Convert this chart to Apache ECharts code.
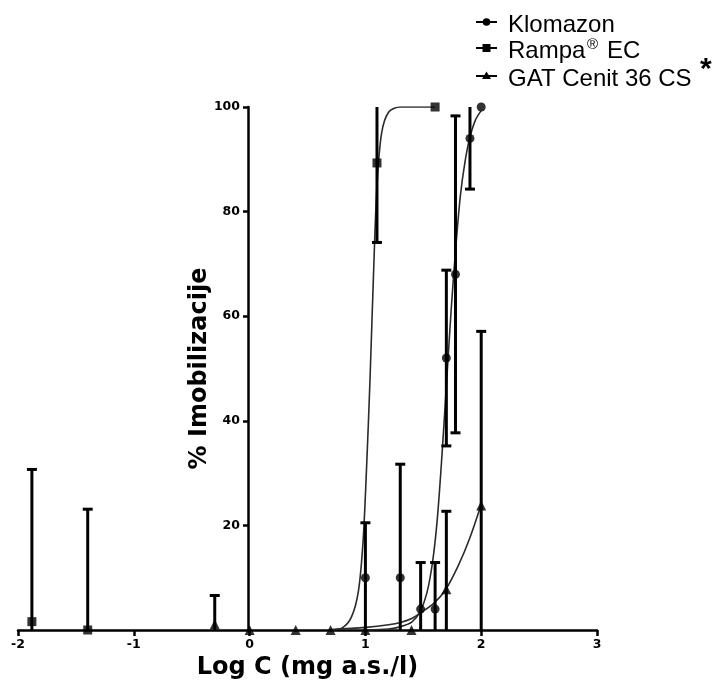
<!DOCTYPE html>
<html><head><meta charset="utf-8">
<script src="https://cdn.jsdelivr.net/npm/echarts@6/dist/echarts.min.js"></script>
<style>html,body{margin:0;padding:0;background:#fff}#c{width:717px;height:690px}</style>
</head><body><div id="c"></div>
<script>
// ---- data ----
const seriesNames = ['Klomazon', 'Rampa® EC', 'GAT Cenit 36 CS'];

const klomX  = [1.0, 1.301, 1.477, 1.602, 1.699, 1.778, 1.903, 2.0];
const klomY  = [10, 10, 4, 4, 52, 68, 94, 100];
const klomSD = [10.5, 21.7, 8.9, 8.9, 16.8, 30.3, 9.7, 0];

const rampaX  = [-1.88, -1.398, 1.1, 1.602];
const rampaY  = [1.6, 0, 89.3, 100];
const rampaSD = [29.1, 23.1, 15.2, 0];

const gatX  = [-0.301, 0, 0.398, 0.699, 1.0, 1.398, 1.699, 2.0];
const gatY  = [1.1, 0, 0, 0, 0, 0, 7.8, 23.8];
const gatSD = [5.5, 0, 0, 0, 0, 0, 14.9, 33.3];

// fitted curves
const klomCurveX = [1.0, 1.2, 1.3, 1.4, 1.47, 1.53, 1.58, 1.62, 1.66, 1.70, 1.74, 1.78, 1.82, 1.86, 1.90, 1.95, 2.0];
const klomCurveY = [0, 0.2, 0.6, 1.5, 3.4, 7, 13, 21, 33, 47, 61, 73, 83, 89.5, 94, 97.5, 99.3];

const rampaCurveX = [0.7, 0.8, 0.88, 0.94, 0.98, 1.01, 1.04, 1.07, 1.10, 1.14, 1.2, 1.3, 1.6];
const rampaCurveY = [0, 0.4, 2.5, 7.5, 17, 31, 48, 68, 85, 95, 99, 100, 100];

const gatCurveX = [0.7, 1.0, 1.2, 1.31, 1.4, 1.47, 1.59, 1.69, 1.8, 1.9, 2.0];
const gatCurveY = [0.1, 0.5, 1.0, 1.5, 2.2, 3.2, 5.1, 7.6, 12.2, 17.5, 24];

const xTickLabels = ['-2', '-1', '0', '1', '2', '3'];
const yTickLabels = ['20', '40', '60', '80', '100'];

// ---- helpers ----
const zip2 = (a, b) => a.map((v, i) => [v, b[i]]);
const zip3 = (a, b, c) => a.map((v, i) => [v, b[i], c[i]]);

function errRender(params, api) {
  const x = api.value(0), y = api.value(1), sd = api.value(2);
  if (!sd) return null;
  let lo = y - sd, hi = y + sd;
  const loCap = lo >= 0, hiCap = hi <= 100;
  lo = Math.max(lo, 0); hi = Math.min(hi, 100);
  const p1 = api.coord([x, lo]), p2 = api.coord([x, hi]);
  const st = { stroke: '#000', lineWidth: 3 };
  const children = [{ type: 'line', shape: { x1: p1[0], y1: p1[1], x2: p2[0], y2: p2[1] }, style: st }];
  if (hiCap) children.push({ type: 'line', shape: { x1: p2[0] - 5, y1: p2[1], x2: p2[0] + 5, y2: p2[1] }, style: st });
  if (loCap) children.push({ type: 'line', shape: { x1: p1[0] - 5, y1: p1[1], x2: p1[0] + 5, y2: p1[1] }, style: st });
  return { type: 'group', children };
}

const curveStyle = { color: '#2a2a2a', width: 1.6 };
const tickFont = { fontFamily: 'DejaVu Sans', fontWeight: 'bold', fontSize: 12.5, color: '#000' };

// legend pieces (drawn with graphic elements)
const legendRows = [
  { y: 22, text: seriesNames[0], shape: 'circle' },
  { y: 48, text: 'Rampa', shape: 'rect' },
  { y: 76, text: seriesNames[2], shape: 'triangle' }
];
const legendGraphics = [];
legendRows.forEach(r => {
  legendGraphics.push({ type: 'line', shape: { x1: 476, y1: r.y, x2: 497, y2: r.y }, style: { stroke: '#000', lineWidth: 2 } });
  if (r.shape === 'circle') legendGraphics.push({ type: 'circle', shape: { cx: 486.5, cy: r.y, r: 3.8 }, style: { fill: '#000' } });
  if (r.shape === 'rect') legendGraphics.push({ type: 'rect', shape: { x: 482.5, y: r.y - 4, width: 8, height: 8 }, style: { fill: '#000' } });
  if (r.shape === 'triangle') legendGraphics.push({ type: 'polygon', shape: { points: [[486.5, r.y - 4.5], [491, r.y + 3], [482, r.y + 3]] }, style: { fill: '#000' } });
  legendGraphics.push({ type: 'text', x: 508, y: r.y + 3, style: { text: r.text, font: '24px "Liberation Sans"', fill: '#000', verticalAlign: 'middle', align: 'left' } });
});
legendGraphics.push({ type: 'text', x: 587, y: 45, style: { text: '®', font: '15px "Liberation Sans"', fill: '#000', verticalAlign: 'middle' } });
legendGraphics.push({ type: 'text', x: 607, y: 51, style: { text: 'EC', font: '24px "Liberation Sans"', fill: '#000', verticalAlign: 'middle' } });
legendGraphics.push({ type: 'text', x: 700, y: 55, style: { text: '*', font: 'bold 30px "Liberation Sans"', fill: '#000', verticalAlign: 'top' } });

const chart = echarts.init(document.getElementById('c'), null, { renderer: 'canvas' });
chart.setOption({
  animation: false,
  backgroundColor: '#fff',
  grid: { left: 18, right: 120, top: 107, bottom: 60, containLabel: false, outerBoundsMode: 'none' },
  xAxis: {
    type: 'value', min: -2, max: 3, interval: 1,
    splitLine: { show: false },
    axisLine: { onZero: false, lineStyle: { color: '#000', width: 2.5 } },
    axisTick: { length: 6, lineStyle: { color: '#000', width: 2.5 } },
    axisLabel: Object.assign({ margin: 8, formatter: v => xTickLabels[Math.round(v) + 2] }, tickFont),
    name: 'Log C (mg a.s./l)', nameLocation: 'middle', nameGap: 17,
    nameTextStyle: { fontFamily: 'DejaVu Sans', fontWeight: 'bold', fontSize: 24, color: '#000' }
  },
  yAxis: {
    type: 'value', min: 0, max: 100, interval: 20,
    offset: -230,
    splitLine: { show: false },
    axisLine: { onZero: false, lineStyle: { color: '#000', width: 2.5 } },
    axisTick: { length: 5, lineStyle: { color: '#000', width: 2.5 } },
    axisLabel: Object.assign({ margin: 8, showMinLabel: false, formatter: v => (v === 0 ? '' : yTickLabels[v / 20 - 1]) }, tickFont),
    name: '% Imobilizacije', nameLocation: 'middle', nameGap: 36, nameMoveOverlap: false,
    nameTextStyle: { fontFamily: 'DejaVu Sans', fontWeight: 'bold', fontSize: 24, color: '#000' }
  },
  series: [
    { type: 'line', data: zip2(klomCurveX, klomCurveY), showSymbol: false, smooth: 0.3, lineStyle: curveStyle, z: 2 },
    { type: 'line', data: zip2(rampaCurveX, rampaCurveY), showSymbol: false, smooth: 0.3, lineStyle: curveStyle, z: 2 },
    { type: 'line', data: zip2(gatCurveX, gatCurveY), showSymbol: false, smooth: 0.3, lineStyle: curveStyle, z: 2 },
    { type: 'custom', renderItem: errRender, data: zip3(klomX, klomY, klomSD), clip: false, z: 3 },
    { type: 'custom', renderItem: errRender, data: zip3(rampaX, rampaY, rampaSD), clip: false, z: 3 },
    { type: 'custom', renderItem: errRender, data: zip3(gatX, gatY, gatSD), clip: false, z: 3 },
    { name: seriesNames[0], type: 'scatter', symbol: 'circle', symbolSize: 9, data: zip2(klomX, klomY), itemStyle: { color: '#000' }, z: 4 },
    { name: seriesNames[1], type: 'scatter', symbol: 'rect', symbolSize: 9, data: zip2(rampaX, rampaY), itemStyle: { color: '#000' }, z: 4 },
    { name: seriesNames[2], type: 'scatter', symbol: 'triangle', symbolSize: 10, data: zip2(gatX, gatY), itemStyle: { color: '#000' }, z: 4 }
  ],
  graphic: legendGraphics
});
</script>
</body></html>
